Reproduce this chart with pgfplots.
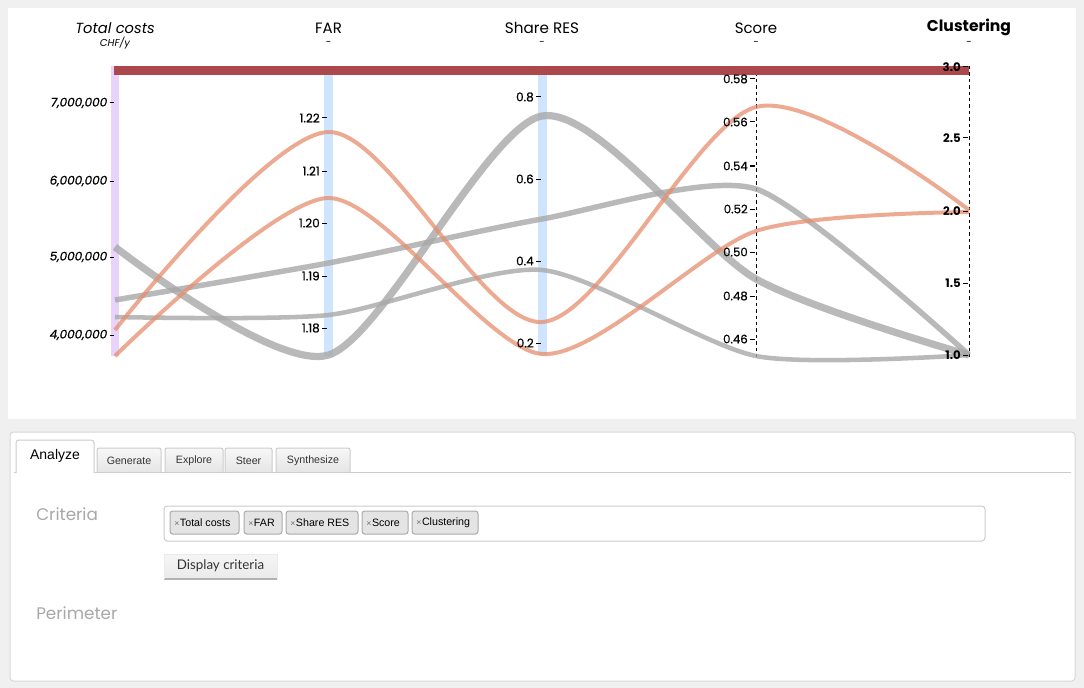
\documentclass[border=0pt]{standalone}
\usepackage{pgfplots}
\pgfplotsset{compat=1.18}
\usepackage{fontspec}
\setmainfont{Poppins}
\newfontfamily\tickfont[FakeBold=0.6]{Poppins}
\newfontfamily\uifont{Liberation Sans}
\newfontfamily\btnfont{Lato}

\definecolor{pagegray}{RGB}{240,240,240}
\definecolor{selred}{RGB}{172,72,76}
\definecolor{bandpurple}{RGB}{232,212,250}
\definecolor{bandblue}{RGB}{206,229,253}
\definecolor{lgray}{RGB}{168,168,168}
\definecolor{lorange}{RGB}{230,142,111}
\definecolor{panelborder}{RGB}{216,216,216}
\definecolor{tabborder}{RGB}{204,204,204}
\definecolor{labelgray}{RGB}{168,168,168}
\definecolor{taggray}{RGB}{228,228,228}
\definecolor{tagborder}{RGB}{170,170,170}
\definecolor{xgray}{RGB}{110,110,110}

\newcommand{\fs}[1]{\fontsize{#1}{#1}\selectfont}
% tick: dash start x, y, label, font
\newcommand{\tk}[4]{%
  \draw[black, line width=0.75pt] (#1,#2) -- ({#1+4.5},#2);
  \node[anchor=east, inner sep=0pt, font=#4] at ({#1-2},#2) {#3};}
% inactive tab: left, right, label
\newcommand{\tab}[3]{%
  \draw[tabborder, line width=0.75pt, top color=white!97!black, bottom color=white!90!black, rounded corners=1.5pt]
    (#1,472) -- (#1,448) -- (#2,448) -- (#2,472);
  \node[font=\uifont\fs{8}, text=black!80] at ({(#1+#2)/2},461) {#3};}
% tag: left, right, label
\newcommand{\tag}[3]{%
  \draw[tagborder, line width=0.75pt, fill=taggray, rounded corners=2pt] (#1,511) rectangle (#2,534);
  \node[anchor=west, inner sep=0pt, font=\uifont\fs{8}] at ({#1+4},522.5) {{\color{xgray}\fs{6.5}×}\hspace{0.5pt}#3};}

\begin{document}
\begin{tikzpicture}
\begin{axis}[
  x=0.75pt, y=0.75pt,
  xmin=0, xmax=1084, ymin=0, ymax=688,
  y dir=reverse,
  hide axis, clip=false, scale only axis,
  every axis plot/.append style={no markers},
]
% page and chart panel
\fill[pagegray] (0,0) rectangle (1084,688);
\fill[white] (8,8) rectangle (1076,419);

% axis bands
\fill[bandpurple] (111,66) rectangle (119,356);
\fill[bandblue] (324,66) rectangle (333,356);
\fill[bandblue] (538,66) rectangle (547,355);
\draw[black, line width=0.75pt, dash pattern=on 2.6pt off 2.2pt] (756,66) -- (756,357);
\draw[black, line width=0.75pt, dash pattern=on 2.6pt off 2.2pt] (969,66) -- (969,357);

% titles
\node[font=\fs{11}\itshape] at (115,28) {Total costs};
\node[font=\fs{7.5}\itshape] at (115,43) {CHF/y};
\node[font=\fs{11.25}] at (328.5,28) {FAR};
\node[font=\fs{11.4}] at (542,28) {Share RES};
\node[font=\fs{11.25}] at (756,28) {Score};
\node[font=\fs{11.7}\bfseries] at (969,27) {Clustering};
\node[font=\fs{7.5}] at (328.5,43) {-};
\node[font=\fs{7.5}] at (542,43) {-};
\node[font=\fs{7.5}] at (756,43) {-};
\node[font=\fs{7.5}] at (969,43) {-};

% lines (x = axis position, y = pixel row)
\addplot[lgray, opacity=0.8, line width=3.4pt, smooth, tension=0.42] coordinates {
  (115,317) (328.5,315) (542,270) (756,356) (969,355)};
\addplot[lgray, opacity=0.8, line width=4.1pt, smooth, tension=0.4] coordinates {
  (115,300) (328.5,263) (542,219) (756,189) (969,355)};
\addplot[lgray, opacity=0.8, line width=5.4pt, smooth, tension=0.45] coordinates {
  (115,247) (328.5,355) (542,116) (756,279) (969,355)};
\addplot[lorange, opacity=0.75, line width=3pt, smooth, tension=0.5] coordinates {
  (115,330) (328.5,132) (542,322) (756,107) (969,210)};
\addplot[lorange, opacity=0.75, line width=3pt, smooth, tension=0.45] coordinates {
  (115,356) (328.5,198) (542,354) (756,231) (969,212)};
\addplot[selred, line width=6.75pt] coordinates {
  (114,70.5) (328.5,70.5) (542,70.5) (756,70.5) (969,70.5)};

% ticks
\tk{109.5}{103}{7,000,000}{\tickfont\fs{9}\itshape}
\tk{109.5}{181}{6,000,000}{\tickfont\fs{9}\itshape}
\tk{109.5}{257}{5,000,000}{\tickfont\fs{9}\itshape}
\tk{109.5}{335}{4,000,000}{\tickfont\fs{9}\itshape}
\tk{322}{118}{1.22}{\tickfont\fs{9}}
\tk{322}{171}{1.21}{\tickfont\fs{9}}
\tk{322}{223}{1.20}{\tickfont\fs{9}}
\tk{322}{276}{1.19}{\tickfont\fs{9}}
\tk{322}{328}{1.18}{\tickfont\fs{9}}
\tk{536}{97}{0.8}{\tickfont\fs{9}}
\tk{536}{179}{0.6}{\tickfont\fs{9}}
\tk{536}{261}{0.4}{\tickfont\fs{9}}
\tk{536}{343}{0.2}{\tickfont\fs{9}}
\tk{750}{79}{0.58}{\tickfont\fs{8.8}}
\tk{750}{122}{0.56}{\tickfont\fs{8.8}}
\tk{750}{166}{0.54}{\tickfont\fs{8.8}}
\tk{750}{209}{0.52}{\tickfont\fs{8.8}}
\tk{750}{252}{0.50}{\tickfont\fs{8.8}}
\tk{750}{296}{0.48}{\tickfont\fs{8.8}}
\tk{750}{339}{0.46}{\tickfont\fs{8.8}}
\tk{963}{67}{3.0}{\fs{8.8}\bfseries}
\tk{963}{138}{2.5}{\fs{8.8}\bfseries}
\tk{963}{211}{2.0}{\fs{8.8}\bfseries}
\tk{963}{283}{1.5}{\fs{8.8}\bfseries}
\tk{963}{355}{1.0}{\fs{8.8}\bfseries}

% lower panel
\draw[panelborder, fill=white, line width=0.75pt, rounded corners=2.5pt] (10,432) rectangle (1075,681);
\draw[tabborder, line width=0.75pt] (14,472.5) -- (1071,472.5);
\draw[tabborder, line width=0.75pt, fill=white, rounded corners=2pt] (16,473) -- (16,440) -- (94,440) -- (94,473);
\fill[white] (16.8,471) rectangle (93.2,474);
\node[font=\uifont\fs{10.5}] at (55,456) {Analyze};
\tab{97}{161}{Generate}
\tab{165}{223}{Explore}
\tab{225}{272}{Steer}
\tab{276}{350}{Synthesize}

\node[anchor=west, inner sep=0pt, text=labelgray, font=\fs{12.6}] at (36,514) {Criteria};
\node[anchor=west, inner sep=0pt, text=labelgray, font=\fs{12.6}] at (36,613) {Perimeter};

\draw[tabborder, line width=0.75pt, fill=white, rounded corners=2.5pt] (164,506) rectangle (985,541);
\tag{170}{239}{Total costs}
\tag{244}{282}{FAR}
\tag{286}{358}{Share RES}
\tag{362}{408}{Score}
\tag{412}{478}{Clustering}

\shade[top color=white!96!black, bottom color=white!92!black] (164,554) rectangle (277,579);
\draw[black!30, line width=1pt] (164,579) -- (277,579);
\draw[black!8, line width=0.5pt] (164,579) -- (164,554) -- (277,554) -- (277,579);
\node[font=\btnfont\fs{10}, text=black!80] at (220.5,566) {Display criteria};
\end{axis}
\end{tikzpicture}
\end{document}
